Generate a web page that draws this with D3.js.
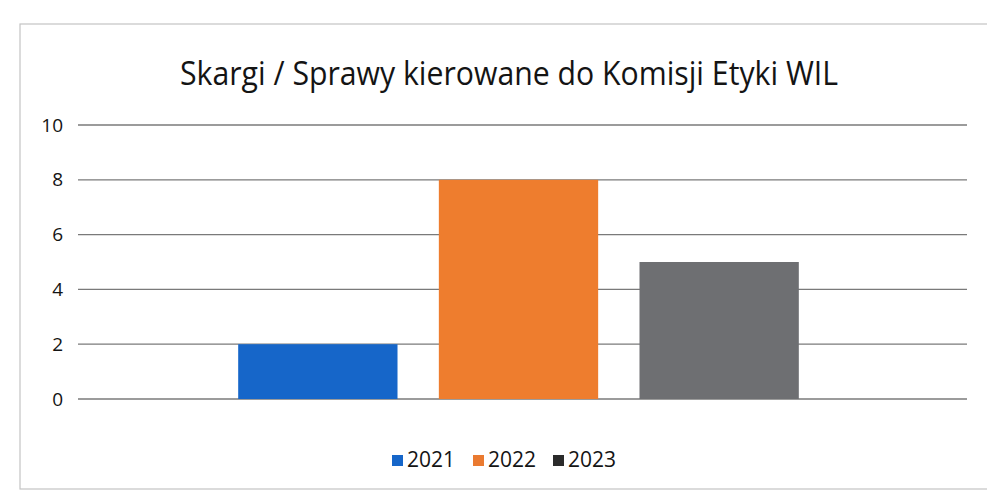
<!DOCTYPE html>
<html>
<head>
<meta charset="utf-8">
<script src="https://cdn.jsdelivr.net/npm/d3@7"></script>
<style>
  body { margin: 0; background: #fff; }
  svg { display: block; }
</style>
</head>
<body>
<div id="vis"></div>
<script>
const TITLE = "Skargi / Sprawy kierowane do Komisji Etyki WIL";
const years = ["2021", "2022", "2023"];
const values = [2, 8, 5];
const yTicks = [0, 2, 4, 6, 8, 10];
const colors = ["#1666c9", "#ee7d2e", "#6e6f72"];
const legendColors = ["#1666c9", "#ea7a30", "#2b2b2b"];

const WIDTH = 987;
const HEIGHT = 495;
const MARGIN = { top: 125, bottom: 96, left: 78, right: 20 };
const FONT = "'Open Sans', 'Noto Sans', sans-serif";

const SVG = d3.select("#vis").append("svg")
    .attr("width", WIDTH)
    .attr("height", HEIGHT);

// marco del gráfico
SVG.append("rect")
    .attr("x", 20)
    .attr("y", 24)
    .attr("width", 1000)
    .attr("height", 465)
    .attr("fill", "none")
    .attr("stroke", "#c4c4c4")
    .attr("stroke-width", 1.2);

SVG.append("text")
    .text(TITLE)
    .attr("x", 509)
    .attr("y", 85)
    .attr("text-anchor", "middle")
    .attr("font-family", FONT)
    .attr("font-size", 32)
    .attr("textLength", 658)
    .attr("lengthAdjust", "spacingAndGlyphs")
    .attr("fill", "#141414");

const yScale = d3.scaleLinear()
    .domain([0, 10])
    .range([HEIGHT - MARGIN.bottom, MARGIN.top]);

const xOuter = d3.scaleBand()
    .domain(["all"])
    .range([MARGIN.left - 8, WIDTH - MARGIN.right])
    .paddingInner(0)
    .paddingOuter(0.3);

const xInner = d3.scaleBand()
    .domain(years)
    .range([0, xOuter.bandwidth()])
    .paddingInner(0.206)
    .paddingOuter(0);

// líneas de la grilla
const grid = SVG.append("g");
grid.selectAll("line")
    .data(yTicks)
    .join("line")
    .attr("x1", MARGIN.left)
    .attr("x2", WIDTH - MARGIN.right)
    .attr("y1", d => yScale(d))
    .attr("y2", d => yScale(d))
    .attr("stroke", "#7a7a7a")
    .attr("stroke-width", 1.3);

const ejeY = SVG.append("g")
    .attr("transform", `translate(${MARGIN.left - 15}, 0)`)
    .call(d3.axisLeft(yScale).tickValues(yTicks).tickSize(0).tickPadding(0));
ejeY.select(".domain").remove();
ejeY.selectAll("text")
    .attr("font-family", FONT)
    .attr("font-size", 19)
    .attr("fill", "#141414");

const barras = SVG.append("g")
    .attr("transform", `translate(${xOuter("all")}, 0)`);

barras.selectAll("rect")
    .data(years)
    .join("rect")
    .attr("x", d => xInner(d))
    .attr("y", (d, i) => yScale(values[i]))
    .attr("width", xInner.bandwidth())
    .attr("height", (d, i) => yScale(0) - yScale(values[i]))
    .attr("fill", (d, i) => colors[i]);

// leyenda
const legendX = [392, 473, 553];
const legend = SVG.append("g");
legend.selectAll("g")
    .data(years)
    .join("g")
    .attr("transform", (d, i) => `translate(${legendX[i]}, 460)`)
    .each(function(d, i) {
        d3.select(this).append("rect")
            .attr("x", 0)
            .attr("y", -5)
            .attr("width", 11)
            .attr("height", 11)
            .attr("fill", legendColors[i]);
        d3.select(this).append("text")
            .attr("x", 15)
            .attr("y", 0)
            .attr("dy", "0.35em")
            .attr("font-family", FONT)
            .attr("font-size", 21)
            .attr("fill", "#141414")
            .text(d);
    });
</script>
</body>
</html>
